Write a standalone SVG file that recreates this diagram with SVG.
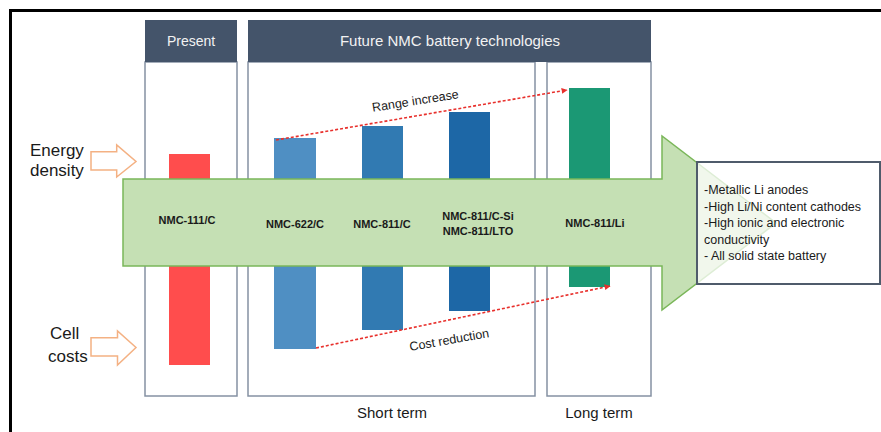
<svg xmlns="http://www.w3.org/2000/svg" width="881" height="432" viewBox="0 0 881 432">
<defs>
<style>
.hdr{fill:#44546a;}
.col{fill:#ffffff;stroke:#8591a3;stroke-width:1.5;}
.htxt{font-family:"Liberation Sans",Arial,sans-serif;fill:#f2f2f2;text-anchor:middle;}
.lbl{font-family:"Liberation Sans",Arial,sans-serif;font-weight:bold;font-size:11px;fill:#1a1a1a;text-anchor:middle;}
.side{font-family:"Liberation Sans",Arial,sans-serif;font-size:17px;fill:#1a1a1a;}
.term{font-family:"Liberation Sans",Arial,sans-serif;font-size:15px;fill:#1a1a1a;text-anchor:middle;}
.note{font-family:"Liberation Sans",Arial,sans-serif;font-size:12.5px;fill:#1a1a1a;}
.trend{font-family:"Liberation Sans",Arial,sans-serif;font-size:12.5px;fill:#1a1a1a;text-anchor:middle;}
.dot{fill:none;stroke:#e8302c;stroke-width:1.6;stroke-dasharray:3 2;}
.oarr{fill:#ffffff;stroke:#f4b183;stroke-width:1.5;}
</style>
<marker id="ah" viewBox="0 0 10 10" refX="9" refY="5" markerWidth="6" markerHeight="6" markerUnits="userSpaceOnUse" orient="auto">
<path d="M0,0 L10,5 L0,10 z" fill="#e8302c"/>
</marker>
</defs>
<rect width="881" height="432" fill="#ffffff"/>
<path d="M10.5,432 L10.5,10.5 L881,10.5" fill="none" stroke="#000000" stroke-width="3"/>

<g id="present-column">
<rect class="col" x="145" y="62" width="92" height="334"/>
<rect class="hdr" x="145" y="20" width="92" height="42"/>
<text class="htxt" x="191" y="46" font-size="14">Present</text>
</g>
<g id="future-header">
<rect class="col" x="248" y="62" width="287" height="334"/>
<rect class="col" x="547" y="62" width="104" height="334"/>
<rect class="hdr" x="248" y="20" width="403" height="42"/>
<text class="htxt" x="450" y="46" font-size="15">Future NMC battery technologies</text>
</g>

<g id="bars">
<rect x="169" y="154" width="41" height="211" fill="#ff4d4d"/>
<rect x="274" y="138" width="42" height="211" fill="#4f8fc3"/>
<rect x="362" y="126" width="41" height="204" fill="#317ab2"/>
<rect x="449" y="112" width="41" height="199" fill="#1d67a6"/>
<rect x="569" y="88" width="41" height="199" fill="#1b9874"/>
</g>

<g id="connectors">
<line class="dot" x1="276" y1="140" x2="567" y2="90" marker-end="url(#ah)"/>
<line class="dot" x1="316" y1="348" x2="610" y2="286" marker-end="url(#ah)"/>
</g>
<text class="trend" transform="translate(416,105) rotate(-9)">Range increase</text>
<text class="trend" transform="translate(450,344) rotate(-10)">Cost reduction</text>

<g id="main-arrow">
<polygon points="123,179 662,179 662,136 776,223 662,310 662,266 123,266" fill="#c5e0b4" stroke="#7ab659" stroke-width="1.5"/>
<text class="lbl" x="187" y="224">NMC-111/C</text>
<text class="lbl" x="295" y="228">NMC-622/C</text>
<text class="lbl" x="382" y="228">NMC-811/C</text>
<text class="lbl" x="478" y="220">NMC-811/C-Si</text>
<text class="lbl" x="478" y="235">NMC-811/LTO</text>
<text class="lbl" x="595" y="227">NMC-811/Li</text>
</g>

<g id="notes-box">
<rect x="697" y="162" width="183" height="122" fill="#ffffff" fill-opacity="0.75" stroke="#4f5b6b" stroke-width="2"/>
<text class="note" x="704" y="194">-Metallic Li anodes</text>
<text class="note" x="704" y="210.5">-High Li/Ni content cathodes</text>
<text class="note" x="704" y="227">-High ionic and electronic</text>
<text class="note" x="704" y="243.5">conductivity</text>
<text class="note" x="704" y="260">- All solid state battery</text>
</g>

<g id="energy-density">
<polygon class="oarr" points="91,151.7 116.7,151.7 116.7,145 136,161.5 116.7,177 116.7,170 91,170"/>
<text class="side" x="30" y="156">Energy</text>
<text class="side" x="30" y="176">density</text>
</g>
<g id="cell-costs">
<polygon class="oarr" points="91,337.7 117.5,337.7 117.5,331 136,347.5 117.5,365 117.5,356 91,356"/>
<text class="side" x="50" y="339">Cell</text>
<text class="side" x="48" y="362">costs</text>
</g>

<text class="term" x="392" y="418">Short term</text>
<text class="term" x="599" y="418">Long term</text>
</svg>
